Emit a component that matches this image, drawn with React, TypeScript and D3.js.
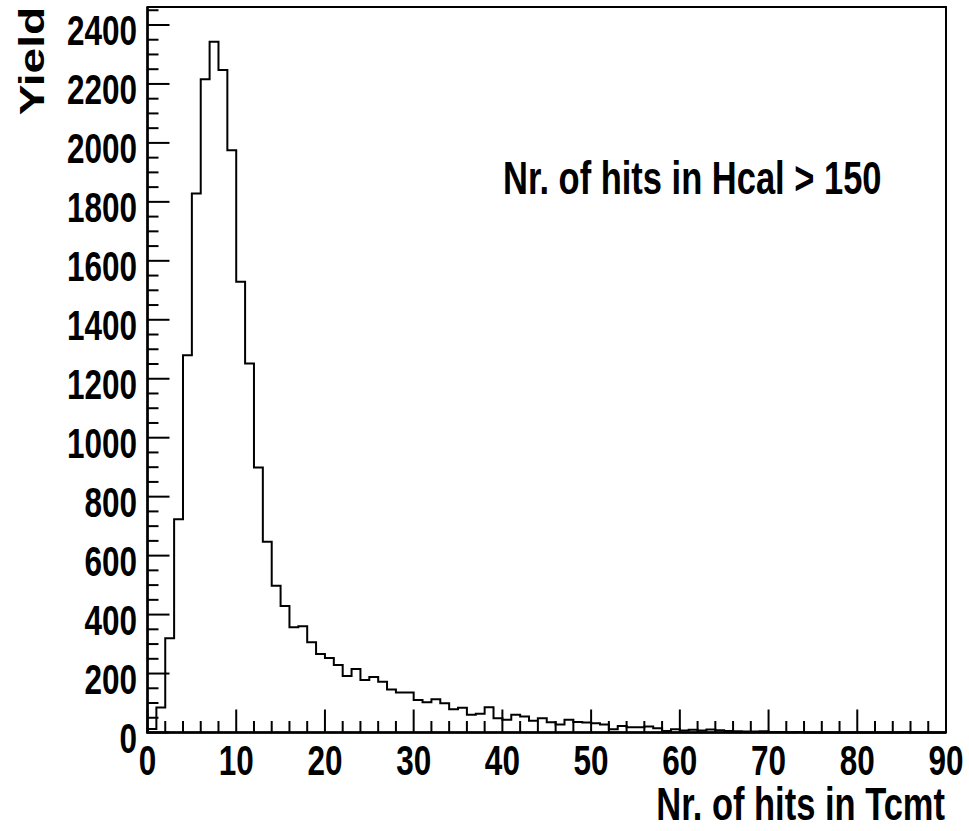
import React from "react";
import * as d3 from "d3";

const counts: number[] = [
  12, 85, 320, 723, 1280, 1828, 2216, 2343, 2247, 1975,
  1529, 1252, 899, 647, 498, 429, 357, 360, 306, 266,
  253, 229, 192, 215, 178, 188, 172, 146, 136, 136,
  110, 103, 113, 99, 79, 84, 60, 64, 86, 48,
  43, 60, 54, 40, 48, 35, 27, 43, 36, 34,
  31, 27, 11, 22, 18, 18, 20, 14, 5, 11,
  7, 9, 7, 10, 8, 5, 4, 3, 3, 4,
  2, 2, 1, 2, 0, 0, 0, 0, 0, 0,
  0, 0, 0, 0, 0, 1, 0, 0, 0, 0,
];
const xMajorTicks: number[] = [0, 10, 20, 30, 40, 50, 60, 70, 80, 90];
const yMajorTicks: number[] = [0, 200, 400, 600, 800, 1000, 1200, 1400, 1600, 1800, 2000, 2200, 2400];
const xTitle = "Nr. of hits in Tcmt";
const yTitle = "Yield";
const annotation = "Nr. of hits in Hcal > 150";

const W = 969;
const H = 831;
const L = 147.5, R = 946, T = 7, B = 732.5;
const SX = 0.75;
const FONT = "'Liberation Sans', Arial, Helvetica, sans-serif";

export default function App() {
  const x = d3.scaleLinear().domain([0, 90]).range([L, R]);
  const y = d3.scaleLinear().domain([0, 2461]).range([B, T]);

  let d = `M${x(0)},${y(0)}`;
  counts.forEach((v, i) => {
    d += `L${x(i)},${y(v)}L${x(i + 1)},${y(v)}`;
  });
  d += `L${x(counts.length)},${y(0)}`;

  const xMinor = d3.range(0, 91, 2).filter((v) => v % 10 !== 0);
  const yMinor = d3.range(0, 2451, 50).filter((v) => v % 200 !== 0);

  return (
    <svg width={W} height={H} style={{ position: "absolute", left: 0, top: 0, background: "#fff" }}
      fontFamily={FONT} fontWeight="bold">
      <rect x={0} y={0} width={W} height={H} fill="#fff" />
      <path d={d} fill="none" stroke="#000" strokeWidth={2} />
      {/* frame */}
      <rect x={L} y={T} width={R - L} height={B - T} fill="none" stroke="#000" strokeWidth={2} />
      <line x1={L} x2={L} y1={T} y2={B + 1} stroke="#000" strokeWidth={2.5} />
      <line x1={L - 1} x2={R} y1={B} y2={B} stroke="#000" strokeWidth={2.5} />
      {/* x ticks */}
      {xMajorTicks.map((t) => (
        <line key={"xM" + t} x1={x(t)} x2={x(t)} y1={B} y2={B - 23} stroke="#000" strokeWidth={2} />
      ))}
      {xMinor.map((t) => (
        <line key={"xm" + t} x1={x(t)} x2={x(t)} y1={B} y2={B - 11.5} stroke="#000" strokeWidth={2} />
      ))}
      {/* y ticks */}
      {yMajorTicks.map((t) => (
        <line key={"yM" + t} x1={L} x2={L + 22} y1={y(t)} y2={y(t)} stroke="#000" strokeWidth={2} />
      ))}
      {yMinor.map((t) => (
        <line key={"ym" + t} x1={L} x2={L + 11} y1={y(t)} y2={y(t)} stroke="#000" strokeWidth={2} />
      ))}
      {/* x tick labels */}
      {xMajorTicks.map((t) => (
        <text key={"xl" + t} transform={`translate(${x(t)},775) scale(${SX},1)`} textAnchor="middle" fontSize={42}>
          {t}
        </text>
      ))}
      {/* y tick labels */}
      {yMajorTicks.map((t) => (
        <text key={"yl" + t} transform={`translate(137,${y(t) + 20}) scale(${SX},1)`} textAnchor="end" fontSize={42}>
          {t}
        </text>
      ))}
      {/* titles */}
      <text transform={`translate(945,820) scale(${SX},1)`} textAnchor="end" fontSize={46}>
        {xTitle}
      </text>
      <text transform={`translate(44,7) scale(${SX},1) rotate(-90)`} textAnchor="end" fontSize={46}>
        {yTitle}
      </text>
      <text transform={`translate(503,194) scale(${SX},1)`} textAnchor="start" fontSize={46}>
        {annotation}
      </text>
    </svg>
  );
}
